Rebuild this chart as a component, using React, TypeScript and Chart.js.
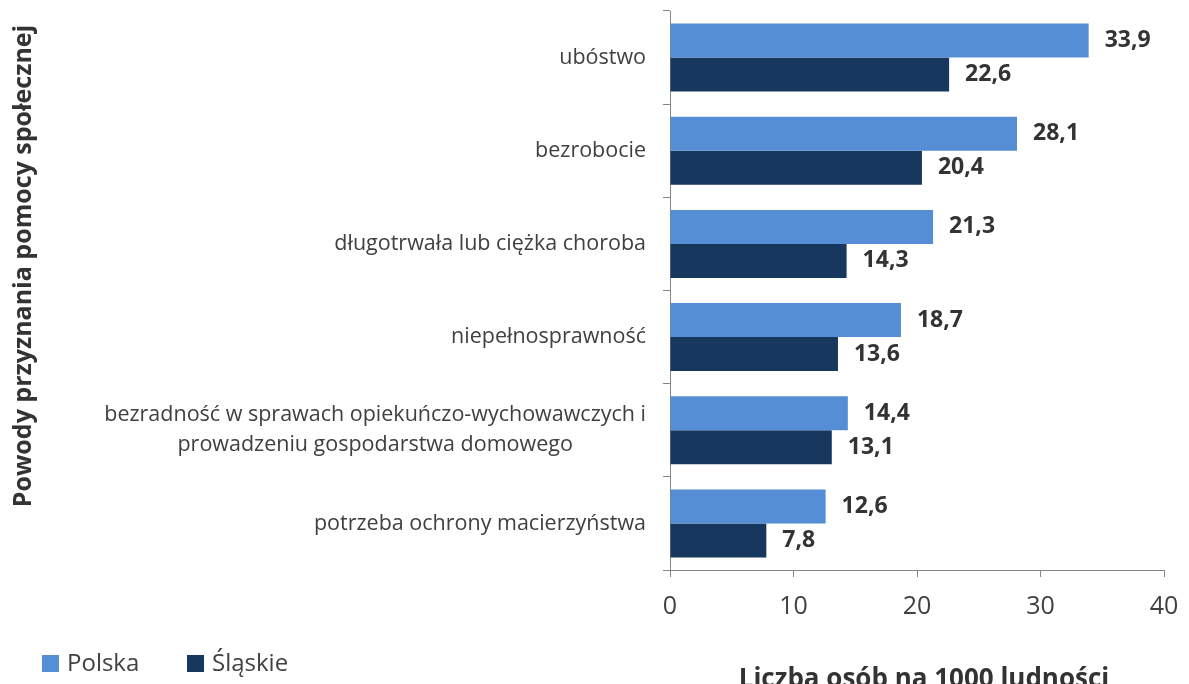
import React, { useEffect, useRef } from "react";
import { Chart, registerables } from "chart.js";

Chart.register(...registerables);

const categories: (string | string[])[] = [
  "ubóstwo",
  "bezrobocie",
  "długotrwała lub ciężka choroba",
  "niepełnosprawność",
  ["bezradność w sprawach opiekuńczo-wychowawczych i", "prowadzeniu gospodarstwa domowego"],
  "potrzeba ochrony macierzyństwa",
];
const polskaValues = [33.9, 28.1, 21.3, 18.7, 14.4, 12.6];
const slaskieValues = [22.6, 20.4, 14.3, 13.6, 13.1, 7.8];
const seriesLabels = ["Polska", "Śląskie"];
const seriesColors = ["#558ED5", "#17375E"];
const xMin = 0;
const xMax = 40;
const xStep = 10;
const xTitle = "Liczba osób na 1000 ludności";
const yTitle = "Powody przyznania pomocy społecznej";

const TEXT = "#404040";
const AXIS = "#868686";
const FONT = "'Open Sans', 'DejaVu Sans', sans-serif";

const fmt = (v: number) => v.toFixed(1).replace(".", ",");

const textPlugin = {
  id: "customText",
  afterDraw(chart: any) {
    const ctx = chart.ctx as CanvasRenderingContext2D;
    const yScale = chart.scales.y;
    const area = chart.chartArea;
    ctx.save();

    // category labels
    ctx.fillStyle = TEXT;
    ctx.font = `21.5px ${FONT}`;
    ctx.textBaseline = "middle";
    ctx.textAlign = "center";
    categories.forEach((cat, i) => {
      const lines = Array.isArray(cat) ? cat : [cat];
      const y = yScale.getPixelForValue(i);
      const maxW = Math.max(...lines.map((l) => ctx.measureText(l).width));
      const right = area.left - 24;
      const cx = right - maxW / 2;
      lines.forEach((l, j) => {
        ctx.fillText(l, cx, y + (j - (lines.length - 1) / 2) * 30);
      });
    });

    // data labels
    ctx.font = `bold 23px ${FONT}`;
    ctx.fillStyle = "#333333";
    ctx.textAlign = "left";
    ctx.textBaseline = "middle";
    chart.data.datasets.forEach((ds: any, d: number) => {
      const meta = chart.getDatasetMeta(d);
      meta.data.forEach((el: any, i: number) => {
        ctx.fillText(fmt(ds.data[i]), el.x + 16, el.y);
      });
    });

    // y title
    ctx.save();
    ctx.font = `bold 25px ${FONT}`;
    ctx.fillStyle = "#333333";
    ctx.translate(24, 266);
    ctx.rotate(-Math.PI / 2);
    ctx.textAlign = "center";
    ctx.textBaseline = "middle";
    ctx.fillText(yTitle, 0, 0);
    ctx.restore();

    // x title
    ctx.font = `bold 26px ${FONT}`;
    ctx.fillStyle = "#333333";
    ctx.textAlign = "center";
    ctx.textBaseline = "alphabetic";
    ctx.fillText(xTitle, 924, 687);

    // legend
    const legendX = [42, 187];
    ctx.font = `24px ${FONT}`;
    ctx.textAlign = "left";
    ctx.textBaseline = "middle";
    seriesLabels.forEach((name, i) => {
      ctx.fillStyle = seriesColors[i];
      ctx.fillRect(legendX[i], 655, 17, 17);
      ctx.fillStyle = TEXT;
      ctx.fillText(name, legendX[i] + 25, 664);
    });

    ctx.restore();
  },
};

export default function App() {
  const ref = useRef<HTMLCanvasElement | null>(null);

  useEffect(() => {
    if (!ref.current) return;
    const chart = new Chart(ref.current, {
      type: "bar",
      data: {
        labels: categories as any,
        datasets: [
          {
            label: seriesLabels[0],
            data: polskaValues,
            backgroundColor: seriesColors[0],
            categoryPercentage: 0.73,
            barPercentage: 1.0,
          },
          {
            label: seriesLabels[1],
            data: slaskieValues,
            backgroundColor: seriesColors[1],
            categoryPercentage: 0.73,
            barPercentage: 1.0,
          },
        ],
      },
      options: {
        indexAxis: "y",
        responsive: false,
        animation: false,
        devicePixelRatio: 1,
        layout: { padding: { left: 0, right: 25, top: 11, bottom: 0 } },
        plugins: {
          legend: { display: false },
          tooltip: { enabled: false },
        },
        scales: {
          x: {
            min: xMin,
            max: xMax,
            ticks: {
              stepSize: xStep,
              color: TEXT,
              font: { family: FONT, size: 25 },
              padding: 15,
            },
            grid: {
              drawOnChartArea: false,
              drawTicks: true,
              tickLength: 7,
              color: AXIS,
            },
            border: { color: AXIS, width: 1 },
            afterFit: (s: any) => {
              s.height = 114;
              s.paddingRight = 0;
              s.paddingLeft = 0;
            },
          },
          y: {
            type: "category",
            offset: true,
            ticks: { display: false },
            grid: {
              offset: true,
              drawOnChartArea: false,
              drawTicks: true,
              tickLength: 7,
              color: AXIS,
            },
            border: { color: AXIS, width: 1 },
            afterFit: (s: any) => {
              s.width = 670;
              s.paddingTop = 0;
              s.paddingBottom = 0;
            },
          },
        },
      },
      plugins: [textPlugin],
    });
    return () => chart.destroy();
  }, []);

  return (
    <div style={{ position: "absolute", left: 0, top: 0, width: 1189, height: 684, background: "#ffffff" }}>
      <canvas ref={ref} width={1189} height={684} style={{ display: "block" }} />
    </div>
  );
}
